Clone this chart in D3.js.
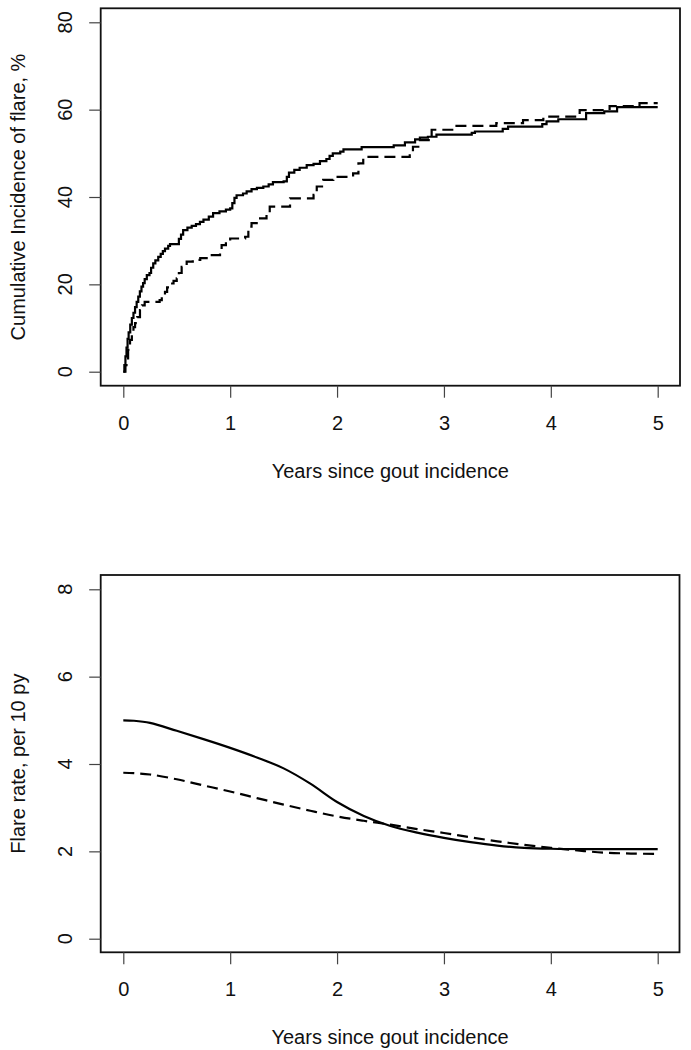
<!DOCTYPE html>
<html>
<head>
<meta charset="utf-8">
<script src="https://cdn.jsdelivr.net/npm/d3@7/dist/d3.min.js"></script>
<style>
  html, body { margin: 0; padding: 0; background: #fff; }
  svg { display: block; font-family: "Liberation Sans", Arial, Helvetica, sans-serif; }
</style>
</head>
<body>
<svg id="chart" width="691" height="1050"></svg>
<script>
// ---------- Data ----------
const xTicks = [0, 1, 2, 3, 4, 5];
const ciTicks = [0, 20, 40, 60, 80];
const rateTicks = [0, 2, 4, 6, 8];
const xTitle = "Years since gout incidence";
const ciTitle = "Cumulative Incidence of flare, %";
const rateTitle = "Flare rate, per 10 py";

// Top panel: cumulative incidence step functions (years, %)
const solidTimes = [0,0.01,0.02,0.03,0.04,0.05,0.065,0.08,0.095,0.11,0.125,0.14,0.155,0.17,0.185,0.2,0.22,0.245,0.26,0.28,0.30,0.327,0.35,0.37,0.39,0.42,0.437,0.52,0.54,0.56,0.6,0.64,0.68,0.717,0.75,0.8,0.84,0.9,0.96,1.0,1.02,1.04,1.06,1.12,1.154,1.2,1.25,1.31,1.36,1.40,1.5,1.53,1.55,1.6,1.65,1.716,1.78,1.84,1.9,1.93,1.96,2.03,2.06,2.23,2.53,2.635,2.73,2.775,2.85,2.93,3.26,3.29,3.55,3.6,3.92,3.96,4.07,4.33,4.5,4.62,5.0];
const solidCI    = [0,1.5,3.5,5.5,7.5,9.0,10.8,12.3,13.5,14.8,16.0,17.2,18.4,19.5,20.3,21.2,22.1,22.6,23.8,24.8,25.5,26.3,27.0,27.6,28.2,28.8,29.2,30.4,31.4,32.4,33.0,33.4,33.8,34.3,34.8,35.5,36.3,36.7,37.1,37.4,38.6,39.8,40.4,40.8,41.3,41.8,42.1,42.4,42.9,43.4,43.6,44.6,45.6,46.2,46.7,47.3,47.6,48.2,48.7,49.4,50.0,50.4,50.9,51.4,51.8,52.5,53.2,53.6,53.8,54.3,54.7,55.0,55.6,56.1,56.7,57.3,57.8,59.2,59.6,60.6,60.6];
const dashedTimes = [0,0.02,0.03,0.045,0.063,0.08,0.095,0.11,0.13,0.156,0.175,0.2,0.34,0.36,0.39,0.41,0.44,0.47,0.5,0.52,0.546,0.593,0.65,0.72,0.795,0.905,0.92,0.96,1.0,1.14,1.17,1.2,1.248,1.34,1.37,1.56,1.78,1.81,1.87,1.965,2.15,2.2,2.245,2.68,2.71,2.76,2.885,3.09,3.49,3.74,3.93,4.27,4.55,4.83,5.0];
const dashedCI    = [0,1.5,2.7,5.0,7.3,9.0,10.2,11.1,12.5,14.1,15.2,16.0,16.4,17.5,18.3,19.3,20.2,20.8,21.4,22.6,24.0,25.2,25.6,26.0,26.7,27.1,29.0,29.8,30.5,30.9,33.2,34.0,35.1,36.3,37.8,39.7,40.5,42.4,43.9,44.6,45.4,47.7,49.2,50.1,51.5,53.0,55.4,56.3,56.9,57.6,58.4,59.9,60.8,61.5,61.5];

// Bottom panel: smoothed flare rates (per 10 person-years)
const solidRateTimes = [0,0.1,0.25,0.5,0.75,1,1.25,1.5,1.75,2,2.25,2.5,2.75,3,3.25,3.5,3.75,4,4.5,5];
const solidRate      = [5.0,4.99,4.94,4.76,4.57,4.37,4.15,3.90,3.55,3.13,2.81,2.58,2.43,2.31,2.21,2.13,2.08,2.06,2.05,2.05];
const dashedRateTimes = [0,0.1,0.25,0.5,0.75,1,1.25,1.5,1.75,2,2.25,2.5,2.75,3,3.25,3.5,3.75,4,4.25,4.5,4.75,5];
const dashedRate      = [3.80,3.79,3.76,3.65,3.51,3.37,3.22,3.07,2.93,2.80,2.70,2.61,2.51,2.42,2.32,2.23,2.15,2.08,2.02,1.97,1.95,1.94];

// ---------- Drawing ----------
const svg = d3.select("#chart");
const DASH = "11,6";

function panel(cfg) {
  const x = d3.scaleLinear().domain([0, 5]).range([123.3, 657.7]);
  const y = d3.scaleLinear().domain(cfg.yDomain).range(cfg.yRange);
  const box = cfg.box;
  const g = svg.append("g");

  g.append("rect")
    .attr("x", box.x0).attr("y", box.y0)
    .attr("width", box.x1 - box.x0).attr("height", box.y1 - box.y0)
    .attr("fill", "none").attr("stroke", "#111").attr("stroke-width", 1.8);

  const xa = g.append("g").attr("transform", `translate(0,${box.y1})`)
    .call(d3.axisBottom(x).tickValues(xTicks).tickSize(12).tickPadding(18).tickFormat(d3.format("d")));
  xa.select(".domain").remove();
  xa.selectAll("line").attr("stroke", "#444").attr("stroke-width", 1.2);
  xa.selectAll("text").attr("font-size", 20).attr("fill", "#111");
  xa.attr("font-family", null).attr("font-size", null);

  const ya = g.append("g").attr("transform", `translate(${box.x0},0)`)
    .call(d3.axisLeft(y).tickValues(cfg.yTicks).tickSize(11.5).tickFormat(""));
  ya.select(".domain").remove();
  ya.selectAll("line").attr("stroke", "#444").attr("stroke-width", 1.2);
  g.selectAll(".ylab").data(cfg.yTicks).enter().append("text")
    .attr("transform", d => `translate(72,${y(d)}) rotate(-90)`)
    .attr("text-anchor", "middle").attr("font-size", 20).attr("fill", "#111")
    .text(d => d);

  g.append("text").attr("x", (box.x0 + box.x1) / 2).attr("y", cfg.xTitleY)
    .attr("text-anchor", "middle").attr("font-size", 20).attr("fill", "#111").text(xTitle);
  g.append("text")
    .attr("transform", `translate(25,${(box.y0 + box.y1) / 2}) rotate(-90)`)
    .attr("text-anchor", "middle").attr("font-size", 20).attr("fill", "#111").text(cfg.yTitle);

  return { x, y, g };
}

// Top panel
const topPanel = panel({
  yDomain: [0, 80], yRange: [371.7, 22.3], yTicks: ciTicks,
  box: { x0: 100.7, x1: 680, y0: 8.3, y1: 385.7 },
  xTitleY: 477.5, yTitle: ciTitle
});
const stepLine = d3.line().x(d => topPanel.x(d[0])).y(d => topPanel.y(d[1])).curve(d3.curveStepAfter);
topPanel.g.append("path").datum(d3.zip(solidTimes, solidCI))
  .attr("d", stepLine).attr("fill", "none").attr("stroke", "#000").attr("stroke-width", 2.2);
topPanel.g.append("path").datum(d3.zip(dashedTimes, dashedCI))
  .attr("d", stepLine).attr("fill", "none").attr("stroke", "#000").attr("stroke-width", 2.2)
  .attr("stroke-dasharray", DASH);

// Bottom panel
const botPanel = panel({
  yDomain: [0, 8], yRange: [938.7, 589.3], yTicks: rateTicks,
  box: { x0: 100.7, x1: 679.5, y0: 575, y1: 952.3 },
  xTitleY: 1044, yTitle: rateTitle
});
const smooth = d3.line().x(d => botPanel.x(d[0])).y(d => botPanel.y(d[1])).curve(d3.curveCatmullRom.alpha(0.5));
botPanel.g.append("path").datum(d3.zip(solidRateTimes, solidRate))
  .attr("d", smooth).attr("fill", "none").attr("stroke", "#000").attr("stroke-width", 2.2);
botPanel.g.append("path").datum(d3.zip(dashedRateTimes, dashedRate))
  .attr("d", smooth).attr("fill", "none").attr("stroke", "#000").attr("stroke-width", 2.2)
  .attr("stroke-dasharray", DASH);
</script>
</body>
</html>
